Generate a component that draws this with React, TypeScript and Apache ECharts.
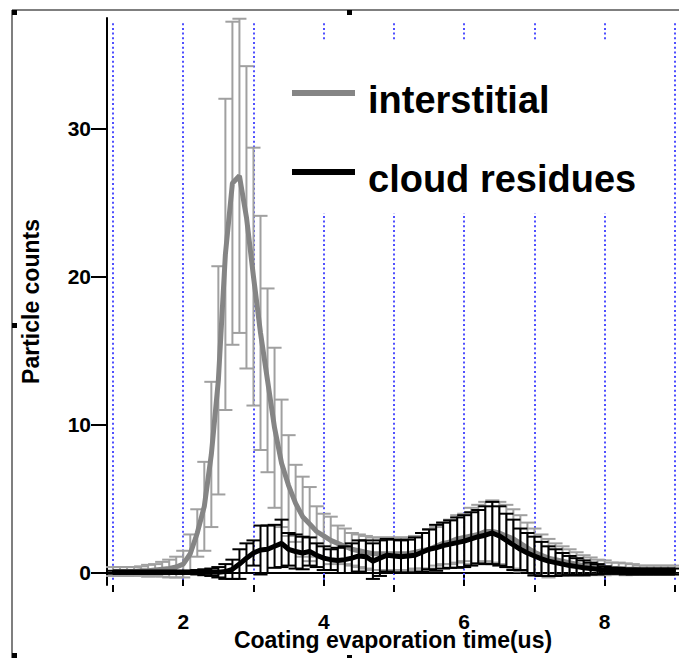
import React, { useEffect, useRef } from "react";
import * as echarts from "echarts";

// Coating evaporation time (us), sampled every 0.1 us
const timeUs = [
  1.0, 1.1, 1.2, 1.3, 1.4, 1.5, 1.6, 1.7, 1.8, 1.9,
  2.0, 2.1, 2.2, 2.3, 2.4, 2.5, 2.6, 2.7, 2.8, 2.9,
  3.0, 3.1, 3.2, 3.3, 3.4, 3.5, 3.6, 3.7, 3.8, 3.9,
  4.0, 4.1, 4.2, 4.3, 4.4, 4.5, 4.6, 4.7, 4.8, 4.9,
  5.0, 5.1, 5.2, 5.3, 5.4, 5.5, 5.6, 5.7, 5.8, 5.9,
  6.0, 6.1, 6.2, 6.3, 6.4, 6.5, 6.6, 6.7, 6.8, 6.9,
  7.0, 7.1, 7.2, 7.3, 7.4, 7.5, 7.6, 7.7, 7.8, 7.9,
  8.0, 8.1, 8.2, 8.3, 8.4, 8.5, 8.6, 8.7, 8.8, 8.9,
  9.0,
];

const interstitialMean = [
  0.1, 0.1, 0.1, 0.1, 0.15, 0.15, 0.2, 0.25, 0.3, 0.4,
  0.6, 1.3, 2.7, 4.5, 8.0, 13.0, 21.5, 26.3, 26.8, 24.0,
  20.0, 16.2, 13.0, 9.8, 7.4, 5.9, 4.7, 3.8, 3.3, 2.8,
  2.5, 2.2, 2.0, 1.8, 1.6, 1.5, 1.4, 1.3, 1.3, 1.3,
  1.3, 1.3, 1.3, 1.4, 1.5, 1.6, 1.8, 2.0, 2.1, 2.3,
  2.4, 2.5, 2.6, 2.8, 2.8, 2.7, 2.5, 2.3, 2.0, 1.7,
  1.4, 1.2, 1.0, 0.9, 0.8, 0.7, 0.6, 0.5, 0.45, 0.4,
  0.35, 0.3, 0.3, 0.25, 0.25, 0.2, 0.2, 0.2, 0.2, 0.2,
  0.2,
];

const interstitialErr = [
  0.3, 0.3, 0.3, 0.3, 0.3, 0.4, 0.4, 0.5, 0.6, 0.7,
  0.9, 1.3, 1.6, 3.0, 4.9, 7.7, 10.5, 10.9, 10.6, 10.2,
  8.7, 7.9, 6.2, 5.4, 4.3, 3.4, 2.6, 2.7, 2.5, 1.7,
  1.5, 1.6, 1.2, 1.2, 1.1, 1.1, 1.1, 1.1, 1.1, 1.1,
  1.1, 1.1, 1.1, 1.1, 1.2, 1.3, 1.3, 1.4, 1.5, 1.6,
  1.6, 1.9, 2.0, 2.0, 2.1, 2.1, 2.1, 2.0, 1.9, 1.7,
  1.6, 1.4, 1.3, 1.1, 1.0, 0.9, 0.8, 0.7, 0.6, 0.5,
  0.5, 0.4, 0.4, 0.4, 0.35, 0.3, 0.3, 0.3, 0.3, 0.3,
  0.3,
];

const residueMean = [
  0.05, 0.05, 0.05, 0.05, 0.05, 0.05, 0.05, 0.05, 0.05, 0.05,
  0.05, 0.05, 0.05, 0.05, 0.05, 0.05, 0.1, 0.25, 0.6, 1.0,
  1.35, 1.55, 1.6, 1.8, 2.0, 1.6, 1.45, 1.35, 1.45, 1.2,
  1.0, 0.9, 0.85, 0.9, 1.0, 1.15, 1.1, 0.8, 1.0, 1.2,
  1.15, 1.1, 1.15, 1.2, 1.4, 1.6, 1.7, 1.85, 1.95, 2.05,
  2.15, 2.3, 2.45, 2.55, 2.7, 2.5, 2.2, 1.9, 1.6, 1.35,
  1.15, 0.95, 0.8, 0.7, 0.6, 0.5, 0.43, 0.35, 0.3, 0.25,
  0.2, 0.15, 0.15, 0.1, 0.1, 0.1, 0.1, 0.1, 0.1, 0.1,
  0.1,
];

const residueErr = [
  0.1, 0.1, 0.1, 0.1, 0.1, 0.1, 0.1, 0.1, 0.1, 0.1,
  0.1, 0.1, 0.15, 0.2, 0.25, 0.35, 0.5, 0.65, 1.0, 1.0,
  0.85, 1.65, 1.6, 1.45, 1.6, 1.1, 1.15, 1.1, 0.95, 0.8,
  0.8, 0.7, 0.85, 0.9, 1.0, 1.05, 1.1, 1.2, 1.2, 1.1,
  1.1, 1.1, 1.1, 1.2, 1.3, 1.35, 1.55, 1.55, 1.6, 1.7,
  1.75, 1.8, 1.8, 1.95, 2.1, 2.0, 1.8, 1.7, 1.4, 1.35,
  1.3, 1.15, 1.0, 0.9, 0.75, 0.65, 0.57, 0.5, 0.4, 0.35,
  0.25, 0.2, 0.2, 0.2, 0.2, 0.2, 0.2, 0.2, 0.2, 0.2,
  0.2,
];

const seriesNames = ["interstitial", "cloud residues"];
const xLabelTicks = [2, 4, 6, 8];
const xMinorTicks = [1, 3, 5, 7, 9];
const yLabelTicks = [0, 10, 20, 30];
const gridLineX = [1, 2, 3, 4, 5, 6, 7, 8, 9];

const X_MIN = 0.9146;
const X_MAX = 9.058;
const Y_MIN = -0.81;
const Y_MAX = 37.45;
const GRID_TOP_VALUE = 37.1;
const GRID_BOTTOM_VALUE = -0.47;

const FONT = "'Liberation Sans', Arial, sans-serif";

const GRAY_LINE = "#858585";
const GRAY_BAR = "#a0a0a0";
const BLACK = "#000000";

// Legend swatch: a 63x6 bar sitting at the top of a 63x20 box, so the label
// text lines up slightly below the bar
const LEGEND_ICON = "path://M0 0H63V6H0Z M0 20H0.01V20Z";

function errorBarRenderer(color: string) {
  return (params: any, api: any) => {
    const x = api.value(0);
    const m = api.value(1);
    const e = api.value(2);
    const top = api.coord([x, m + e]);
    const bot = api.coord([x, m - e]);
    const half = api.size([0.1, 0])[0];
    const style = { stroke: color, lineWidth: 2 };
    return {
      type: "group",
      children: [
        { type: "line", shape: { x1: top[0], y1: top[1], x2: bot[0], y2: bot[1] }, style },
        { type: "line", shape: { x1: top[0] - half, y1: top[1], x2: top[0] + half, y2: top[1] }, style },
        { type: "line", shape: { x1: bot[0] - half, y1: bot[1], x2: bot[0] + half, y2: bot[1] }, style },
      ],
    };
  };
}

function buildOption() {
  const interstitialLine = timeUs.map((t, i) => [t, interstitialMean[i]]);
  const residueLine = timeUs.map((t, i) => [t, residueMean[i]]);
  const interstitialBars = timeUs.map((t, i) => [t, interstitialMean[i], interstitialErr[i]]);
  const residueBars = timeUs.map((t, i) => [t, residueMean[i], residueErr[i]]);

  const axisText = { fontFamily: FONT, fontWeight: "bold" as const, color: "#000" };

  return {
    animation: false,
    backgroundColor: "#ffffff",
    grid: {
      left: 107,
      top: 18,
      right: 0,
      bottom: 73,
      containLabel: false,
      outerBoundsMode: "none",
    },
    legend: {
      data: seriesNames,
      orient: "vertical",
      left: 285,
      top: 40,
      padding: [40, 16, 14, 7],
      itemGap: 39,
      itemWidth: 63,
      itemHeight: 20,
      icon: LEGEND_ICON,
      backgroundColor: "#ffffff",
      z: 10,
      selectedMode: false,
      textStyle: {
        fontFamily: FONT,
        fontWeight: "bold",
        fontSize: 38,
        color: "#000",
        lineHeight: 40,
        padding: [0, 0, 0, 8],
      },
    },
    graphic: [
      { type: "line", shape: { x1: 12, y1: 10, x2: 679, y2: 10 }, style: { stroke: "#555", lineWidth: 1.5 }, z: 20 },
      { type: "line", shape: { x1: 12, y1: 10, x2: 12, y2: 658 }, style: { stroke: "#555", lineWidth: 1.5 }, z: 20 },
      { type: "rect", shape: { x: 12, y: 10, width: 5, height: 5 }, style: { fill: "#000" }, z: 21 },
      { type: "rect", shape: { x: 347, y: 10, width: 5, height: 5 }, style: { fill: "#000" }, z: 21 },
      { type: "rect", shape: { x: 12, y: 323, width: 5, height: 5 }, style: { fill: "#000" }, z: 21 },
      { type: "rect", shape: { x: 12, y: 653, width: 5, height: 5 }, style: { fill: "#000" }, z: 21 },
      { type: "rect", shape: { x: 347, y: 655, width: 5, height: 5 }, style: { fill: "#000" }, z: 21 },
    ],
    xAxis: [
      {
        type: "value",
        min: X_MIN,
        max: X_MAX,
        position: "bottom",
        axisLine: { show: true, lineStyle: { color: "#000", width: 2 } },
        axisTick: { show: true, customValues: xLabelTicks, length: 13, lineStyle: { color: "#000", width: 2 } },
        axisLabel: {
          show: true,
          customValues: xLabelTicks,
          margin: 29,
          fontSize: 21,
          lineHeight: 14,
          ...axisText,
        },
        splitLine: { show: false },
        name: "Coating evaporation time(us)",
        nameLocation: "middle",
        nameGap: 48,
        nameMoveOverlap: false,
        nameTextStyle: { fontSize: 23, lineHeight: 14, ...axisText },
      },
      {
        type: "value",
        min: X_MIN,
        max: X_MAX,
        position: "bottom",
        axisLine: { show: false },
        axisTick: { show: true, customValues: xMinorTicks, length: 7, lineStyle: { color: "#000", width: 2 } },
        axisLabel: { show: false },
        splitLine: { show: false },
      },
    ],
    yAxis: {
      type: "value",
      min: Y_MIN,
      max: Y_MAX,
      axisLine: { show: true, lineStyle: { color: "#000", width: 2 } },
      axisTick: { show: true, customValues: yLabelTicks, length: 16, lineStyle: { color: "#000", width: 2 } },
      axisLabel: { show: true, customValues: yLabelTicks, margin: 16, fontSize: 21, ...axisText },
      splitLine: { show: false },
      name: "Particle counts",
      nameLocation: "middle",
      nameGap: 65,
      nameMoveOverlap: false,
      nameTextStyle: { fontSize: 23, ...axisText },
    },
    series: [
      {
        name: "gridlines",
        type: "line",
        data: [],
        silent: true,
        z: 1,
        markLine: {
          silent: true,
          z: 1,
          symbol: ["none", "none"],
          label: { show: false },
          emphasis: { disabled: true },
          lineStyle: { color: "#4f4fff", width: 2, type: [2, 2.7] },
          data: gridLineX.map((v) => [
            { coord: [v, GRID_TOP_VALUE] },
            { coord: [v, GRID_BOTTOM_VALUE] },
          ]),
        },
      },
      {
        name: "interstitial error",
        type: "custom",
        z: 3,
        silent: true,
        renderItem: errorBarRenderer(GRAY_BAR),
        encode: { x: 0, y: 1 },
        data: interstitialBars,
      },
      {
        name: seriesNames[0],
        type: "line",
        z: 4,
        silent: true,
        symbol: "none",
        color: GRAY_LINE,
        lineStyle: { color: GRAY_LINE, width: 5 },
        data: interstitialLine,
      },
      {
        name: "cloud residues error",
        type: "custom",
        z: 5,
        silent: true,
        renderItem: errorBarRenderer(BLACK),
        encode: { x: 0, y: 1 },
        data: residueBars,
      },
      {
        name: seriesNames[1],
        type: "line",
        z: 6,
        silent: true,
        symbol: "none",
        color: BLACK,
        lineStyle: { color: BLACK, width: 5 },
        data: residueLine,
      },
    ],
  };
}

export default function App() {
  const ref = useRef<HTMLDivElement>(null);
  useEffect(() => {
    document.body.style.margin = "0";
    const chart = echarts.init(ref.current as HTMLDivElement, null, { renderer: "svg" });
    chart.setOption(buildOption() as any);
    return () => chart.dispose();
  }, []);
  return <div ref={ref} style={{ width: 679, height: 658 }} />;
}
